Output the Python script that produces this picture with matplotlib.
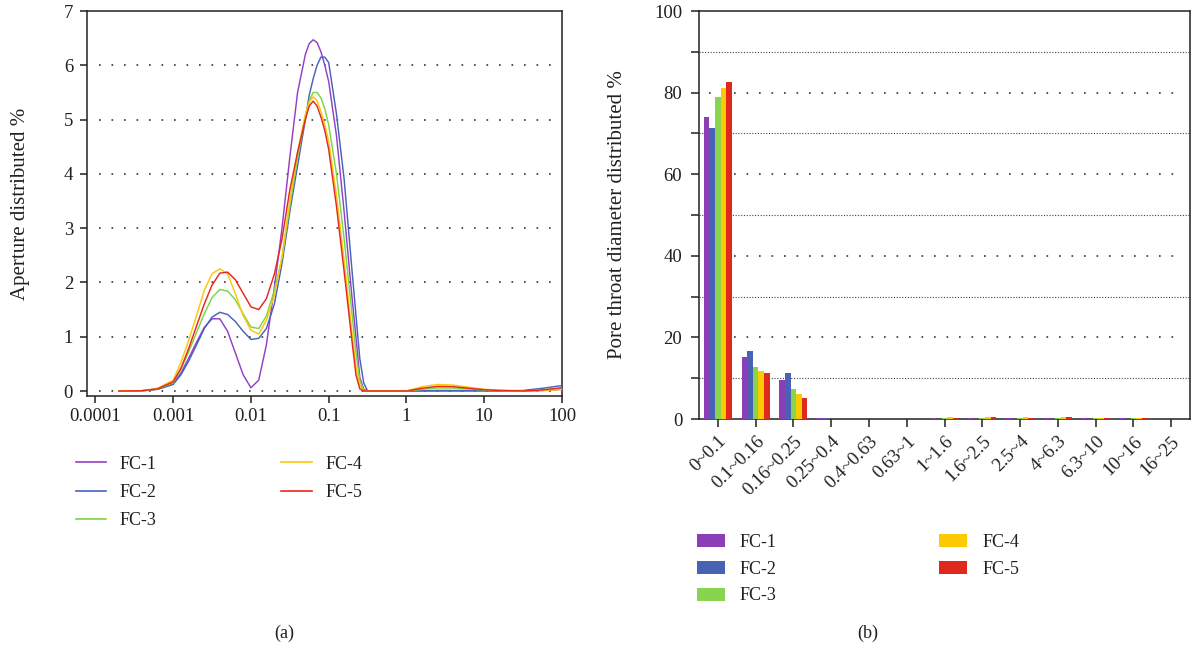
import matplotlib
matplotlib.use("Agg")
import matplotlib.pyplot as plt
from matplotlib.patches import Patch
from matplotlib.lines import Line2D
import matplotlib.transforms as mtransforms

plt.rcParams['font.family'] = ['Liberation Serif', 'DejaVu Serif']
TXT = '#231f20'
FS = 13.5
FS_LAB = 15

# ---------------- data: (a) aperture distribution ----------------
aperture = [0.0002, 0.000251, 0.000398, 0.000631, 0.001, 0.00126, 0.00158, 0.002,
            0.00251, 0.00316, 0.00398, 0.00501, 0.00631, 0.00794, 0.01, 0.0126,
            0.0158, 0.02, 0.0251, 0.0316, 0.0398, 0.0501, 0.0562, 0.0631, 0.0708,
            0.0794, 0.0891, 0.1, 0.126, 0.158, 0.2, 0.224, 0.251, 0.282, 0.316,
            0.398, 1.0, 1.58, 2.51, 3.98, 6.31, 10, 15.8, 31.6, 56.2, 100]
fc1_a = [0, 0, 0.005, 0.035, 0.14, 0.33, 0.6, 0.9, 1.17, 1.33, 1.33, 1.1, 0.7, 0.3, 0.06,
         0.2, 0.85, 1.9, 3.0, 4.3, 5.5, 6.2, 6.4, 6.47, 6.42, 6.25, 6.0, 5.7, 4.7, 3.3,
         1.7, 1.0, 0.25, 0.03, 0, 0,
         0, 0, 0, 0, 0, 0, 0, 0, 0.01, 0.03]
fc2_a = [0, 0, 0.005, 0.03, 0.12, 0.3, 0.55, 0.85, 1.15, 1.36, 1.45, 1.41, 1.28, 1.1, 0.95,
         0.97, 1.15, 1.6, 2.35, 3.3, 4.15, 5.0, 5.45, 5.75, 6.0, 6.15, 6.15, 6.05, 5.1, 3.9,
         2.2, 1.4, 0.6, 0.15, 0, 0,
         0, 0.005, 0.01, 0.01, 0.01, 0.01, 0.005, 0.01, 0.05, 0.1]
fc3_a = [0, 0, 0.005, 0.04, 0.15, 0.4, 0.72, 1.08, 1.42, 1.72, 1.87, 1.84, 1.68, 1.42, 1.18,
         1.15, 1.38, 1.85, 2.45, 3.4, 4.3, 5.05, 5.35, 5.5, 5.5, 5.4, 5.2, 4.9, 4.0, 2.8,
         1.4, 0.7, 0.2, 0, 0, 0,
         0, 0.03, 0.055, 0.055, 0.04, 0.02, 0.01, 0, 0.015, 0.05]
fc4_a = [0, 0, 0.006, 0.05, 0.2, 0.53, 0.93, 1.39, 1.85, 2.16, 2.25, 2.16, 1.79, 1.39, 1.12,
         1.05, 1.3, 1.76, 2.47, 3.5, 4.4, 5.1, 5.32, 5.42, 5.35, 5.15, 4.9, 4.6, 3.6, 2.4,
         1.05, 0.45, 0.1, 0, 0, 0,
         0, 0.08, 0.12, 0.11, 0.07, 0.03, 0.01, 0, 0.01, 0.03]
fc5_a = [0, 0, 0.005, 0.04, 0.17, 0.42, 0.78, 1.2, 1.6, 1.95, 2.17, 2.19, 2.05, 1.8, 1.55,
         1.5, 1.7, 2.15, 2.8, 3.7, 4.4, 5.0, 5.25, 5.34, 5.25, 5.05, 4.8, 4.45, 3.4, 2.2,
         0.9, 0.3, 0.04, 0, 0, 0,
         0, 0.05, 0.085, 0.08, 0.05, 0.025, 0.01, 0, 0.02, 0.06]
xtick_vals = [0.0001, 0.001, 0.01, 0.1, 1, 10, 100]
xtick_labels = ['0.0001', '0.001', '0.01', '0.1', '1', '10', '100']

# ---------------- data: (b) pore throat diameter distribution ----------------
categories = ['0~0.1', '0.1~0.16', '0.16~0.25', '0.25~0.4', '0.4~0.63', '0.63~1',
              '1~1.6', '1.6~2.5', '2.5~4', '4~6.3', '6.3~10', '10~16', '16~25']
fc1_b = [74.1, 15.1, 9.6, 0.3, 0, 0, 0.3, 0.3, 0.3, 0.3, 0.3, 0.25, 0.1]
fc2_b = [71.4, 16.7, 11.2, 0.35, 0, 0, 0, 0, 0, 0, 0, 0, 0]
fc3_b = [79.0, 12.8, 7.4, 0, 0, 0, 0.25, 0.25, 0.25, 0.25, 0.25, 0.25, 0.05]
fc4_b = [81.2, 11.7, 6.1, 0, 0, 0, 0.4, 0.6, 0.5, 0.55, 0.35, 0.3, 0.05]
fc5_b = [82.7, 11.2, 5.1, 0, 0, 0, 0.35, 0.45, 0.3, 0.4, 0.3, 0.3, 0.1]

series_names = ['FC-1', 'FC-2', 'FC-3', 'FC-4', 'FC-5']
line_colors = ['#9440c6', '#4763bd', '#7fd446', '#fcc70a', '#e8281c']
bar_colors = ['#8a3fb8', '#4a62b4', '#88d44f', '#fdc900', '#e0291d']

W, H = 1199, 649
fig = plt.figure(figsize=(W / 100, H / 100), dpi=100)

def fx(px):
    return px / W

def fy(py):
    return 1 - py / H

# ---------------- panel (a) ----------------
ax1 = fig.add_axes([fx(87), fy(396), fx(562 - 87), (396 - 11) / H])
for ys, c in zip([fc1_a, fc2_a, fc3_a, fc4_a, fc5_a], line_colors):
    ax1.plot(aperture, ys, color=c, lw=1.05, zorder=3)
ax1.set_xscale('log')
ax1.set_xlim(7.8e-5, 100)
ax1.set_ylim(-0.092, 7)
ax1.set_xticks(xtick_vals)
ax1.set_xticklabels(xtick_labels)
ax1.xaxis.set_minor_locator(matplotlib.ticker.NullLocator())
ax1.set_yticks(range(0, 8))
for yv in range(0, 7):
    ax1.axhline(yv, xmin=0.025, xmax=0.99, color='#333333', lw=1.2,
                linestyle=(0, (1, 6.5)), zorder=1)
ax1.tick_params(direction='out', length=5, width=1.1, labelsize=FS, colors=TXT)
ax1.tick_params(axis='y', pad=5)
for s in ax1.spines.values():
    s.set_linewidth(1.1)
    s.set_color('#222222')
ax1.set_ylabel('Aperture distributed %', fontsize=FS_LAB, color=TXT)
ax1.yaxis.set_label_coords((30 - 87) / 475, 0.5)

h1 = [Line2D([0], [0], color=c, lw=1.2) for c in line_colors]
fig.legend(h1, series_names, loc='upper left', bbox_to_anchor=(fx(63), fy(443)),
           ncol=2, frameon=False, fontsize=13, handlelength=1.7, handletextpad=0.75,
           columnspacing=6.9, labelspacing=0.62, borderpad=0.2, labelcolor=TXT)

# ---------------- panel (b) ----------------
ax2 = fig.add_axes([fx(699), fy(419), fx(1190 - 699), (419 - 11) / H])
xpos = list(range(len(categories)))
bw = 0.148
for i, (vals, c) in enumerate(zip([fc1_b, fc2_b, fc3_b, fc4_b, fc5_b], bar_colors)):
    ax2.bar([x + (i - 2) * bw for x in xpos], vals, width=bw, color=c, zorder=3,
            linewidth=0)
ax2.set_xlim(-0.5, 12.5)
ax2.set_ylim(0, 100)
ax2.set_xticks(xpos)
ax2.set_xticklabels(categories, rotation=45, ha='right', rotation_mode='anchor')
off = mtransforms.ScaledTranslation(5 / 100, 0, fig.dpi_scale_trans)
for lab in ax2.get_xticklabels():
    lab.set_transform(lab.get_transform() + off)
ax2.set_yticks([0, 20, 40, 60, 80, 100])
ax2.set_yticks([10, 30, 50, 70, 90], minor=True)
for yv in [20, 40, 60, 80]:
    ax2.axhline(yv, xmin=0.02, xmax=0.98, color='#333333', lw=1.2,
                linestyle=(0, (1, 6.5)), zorder=1)
for yv in [10, 30, 50, 70, 90]:
    ax2.axhline(yv, color='#444444', lw=0.8, linestyle=(0, (1, 1.5)), zorder=1)
ax2.tick_params(which='both', direction='out', length=6, width=1.1, labelsize=FS,
                colors=TXT)
ax2.tick_params(axis='y', pad=6)
ax2.tick_params(axis='x', pad=4)
for s in ax2.spines.values():
    s.set_linewidth(1.1)
    s.set_color('#222222')
ax2.set_ylabel('Pore throat diameter distributed %', fontsize=FS_LAB, color=TXT)
ax2.yaxis.set_label_coords((627 - 699) / 491, 0.5)

h2 = [Patch(facecolor=c) for c in bar_colors]
fig.legend(h2, series_names, loc='upper left', bbox_to_anchor=(fx(684), fy(521)),
           ncol=2, frameon=False, fontsize=13, handlelength=1.55, handleheight=0.75,
           handletextpad=0.85, columnspacing=9.0, labelspacing=0.55, borderpad=0.2,
           labelcolor=TXT)

fig.text(fx(284), fy(633), '(a)', ha='center', va='center', fontsize=13, color=TXT)
fig.text(fx(868), fy(633), '(b)', ha='center', va='center', fontsize=13, color=TXT)

fig.savefig('out.png', dpi=100)
